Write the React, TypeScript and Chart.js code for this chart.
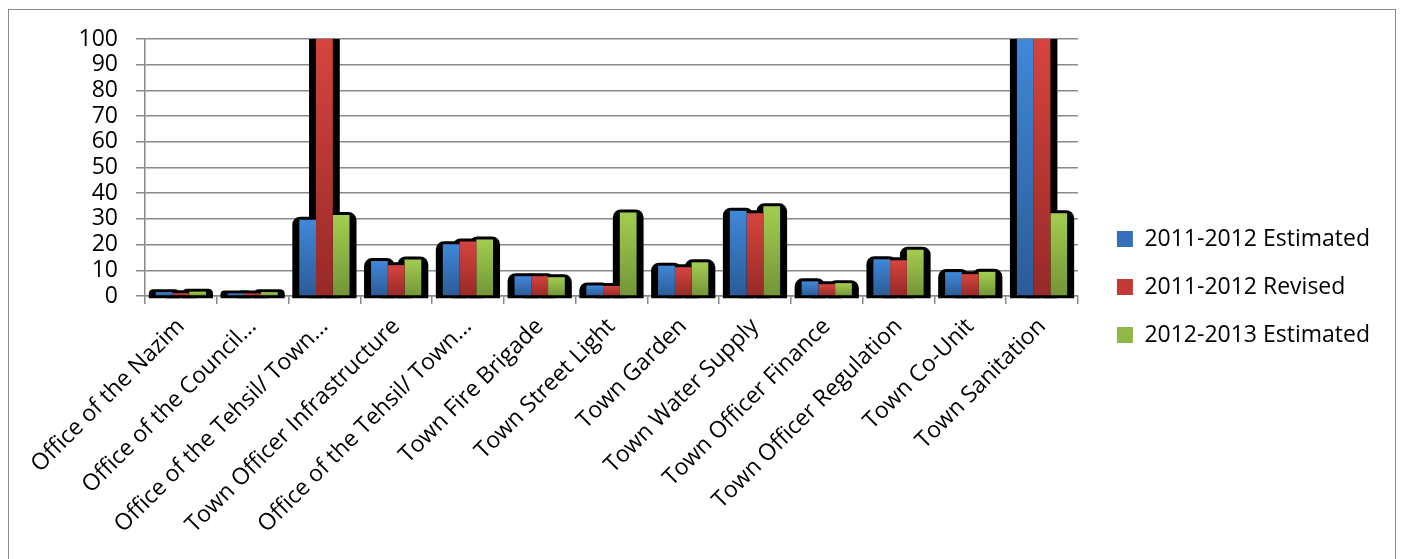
import React, { useEffect, useRef } from 'react';
import { Chart, registerables } from 'chart.js';

Chart.register(...registerables);

const categories = [
  'Office of the Nazim',
  'Office of the Council...',
  'Office of the Tehsil/ Town...',
  'Town Officer Infrastructure',
  'Office of the Tehsil/ Town...',
  'Town Fire Brigade',
  'Town Street Light',
  'Town Garden',
  'Town Water Supply',
  'Town Officer Finance',
  'Town Officer Regulation',
  'Town Co-Unit',
  'Town Sanitation',
];

const seriesNames = ['2011-2012 Estimated', '2011-2012 Revised', '2012-2013 Estimated'];

const estimated2011 = [1.5, 1.0, 29.7, 13.6, 20.1, 7.7, 4.1, 11.8, 33.2, 5.7, 14.3, 9.3, 180];
const revised2011 = [1.1, 1.0, 170, 12.0, 21.2, 7.7, 3.9, 11.2, 32.2, 4.6, 13.9, 8.5, 175];
const estimated2012 = [1.7, 1.5, 31.5, 14.2, 22.0, 7.3, 32.5, 13.1, 34.9, 5.0, 18.0, 9.4, 32.2];

const yMin = 0;
const yMax = 100;
const yStep = 10;

const FONT = "'Open Sans', 'Noto Sans', sans-serif";

const palette = [
  { top: '#4088d8', bottom: '#2b5b97', solid: '#3670bb' },
  { top: '#d6443f', bottom: '#962a27', solid: '#c03a36' },
  { top: '#a3cd50', bottom: '#739538', solid: '#8fb846' },
];

function gradientFor(idx: number) {
  return (ctx: any) => {
    const c = palette[idx];
    if (ctx.type !== 'data') return c.solid;
    const chart = ctx.chart;
    const ys = chart.scales && chart.scales.y;
    if (!ys) return c.solid;
    const v = Math.min(ctx.raw as number, yMax);
    const top = ys.getPixelForValue(v);
    const bottom = ys.getPixelForValue(0);
    if (!isFinite(top) || !isFinite(bottom) || Math.abs(bottom - top) < 1) return c.solid;
    const g = chart.ctx.createLinearGradient(0, top, 0, bottom);
    g.addColorStop(0, c.top);
    g.addColorStop(1, c.bottom);
    return g;
  };
}

const shadowPlugin = {
  id: 'barShadow',
  beforeDatasetsDraw(chart: any) {
    const ctx = chart.ctx;
    const area = chart.chartArea;
    ctx.save();
    ctx.beginPath();
    ctx.rect(area.left, area.top, area.right - area.left, area.bottom - area.top + 4);
    ctx.clip();
    ctx.fillStyle = '#000';
    chart.data.datasets.forEach((_ds: any, i: number) => {
      const meta = chart.getDatasetMeta(i);
      meta.data.forEach((bar: any) => {
        const p = bar.getProps(['x', 'y', 'base', 'width'], true);
        const left = p.x - p.width / 2 - 7;
        const right = p.x + p.width / 2 + 7;
        const top = Math.max(p.y - 3, area.top - 20);
        const bottom = p.base + 3;
        const h = bottom - top;
        const r = Math.min(8, h / 2);
        ctx.beginPath();
        ctx.roundRect(left, top, right - left, h, [r, r, 0, 0]);
        ctx.fill();
      });
    });
    ctx.restore();
  },
};

export default function App() {
  const ref = useRef<HTMLCanvasElement | null>(null);

  useEffect(() => {
    document.body.style.overflow = 'hidden';
    const canvas = ref.current;
    if (!canvas) return;
    const data = [estimated2011, revised2011, estimated2012];
    const chart = new Chart(canvas, {
      type: 'bar',
      data: {
        labels: categories,
        datasets: data.map((d, i) => ({
          label: seriesNames[i],
          data: d,
          backgroundColor: gradientFor(i),
          borderWidth: 0,
          categoryPercentage: 0.7,
          barPercentage: 1.0,
          yAxisID: 'y',
        })),
      },
      options: {
        responsive: false,
        animation: false,
        layout: { padding: { top: 29, right: 15, bottom: 33, left: 0 } },
        plugins: {
          tooltip: { enabled: false },
          legend: {
            position: 'right',
            maxWidth: 400,
            labels: {
              font: { family: FONT, size: 23 },
              color: '#000',
              boxWidth: 16,
              boxHeight: 16,
              padding: 25,
              generateLabels: () =>
                seriesNames.map((name, i) => ({
                  text: name,
                  fillStyle: palette[i].solid,
                  strokeStyle: 'rgba(0,0,0,0)',
                  lineWidth: 0,
                  hidden: false,
                  datasetIndex: i,
                  fontColor: '#000',
                })),
            },
          },
        },
        scales: {
          x: {
            offset: true,
            grid: {
              display: true,
              offset: true,
              drawOnChartArea: false,
              drawTicks: true,
              tickLength: 8,
              color: '#898989',
              lineWidth: 1.5,
            },
            border: { display: true, color: '#898989', width: 1.5 },
            ticks: {
              autoSkip: false,
              maxRotation: 45,
              minRotation: 45,
              color: '#000',
              padding: 9,
              font: { family: FONT, size: 23 },
            },
            afterFit: (s: any) => {
              s.height = 239;
            },
          },
          y: {
            min: yMin,
            max: yMax,
            ticks: {
              stepSize: yStep,
              autoSkip: false,
              color: '#000',
              padding: 18,
              font: { family: FONT, size: 23 },
            },
            grid: {
              color: '#898989',
              lineWidth: 1.5,
              tickLength: 9,
            },
            border: { display: true, color: '#898989', width: 1.5 },
            afterFit: (s: any) => {
              s.width = 136;
              s.paddingTop = 10;
              s.paddingBottom = 10;
            },
          },
          spacer: {
            type: 'linear',
            position: 'right',
            display: true,
            grid: { display: false },
            border: { display: false },
            ticks: { display: false },
            afterFit: (s: any) => {
              s.width = 14;
            },
          },
        },
      } as any,
      plugins: [shadowPlugin],
    });
    return () => chart.destroy();
  }, []);

  return (
    <div
      style={{
        boxSizing: 'border-box',
        position: 'relative',
        top: 1,
        width: 1388,
        height: 560,
        border: '1px solid #898989',
        background: '#fff',
      }}
    >
      <canvas ref={ref} width={1386} height={558} style={{ display: 'block' }} />
    </div>
  );
}
